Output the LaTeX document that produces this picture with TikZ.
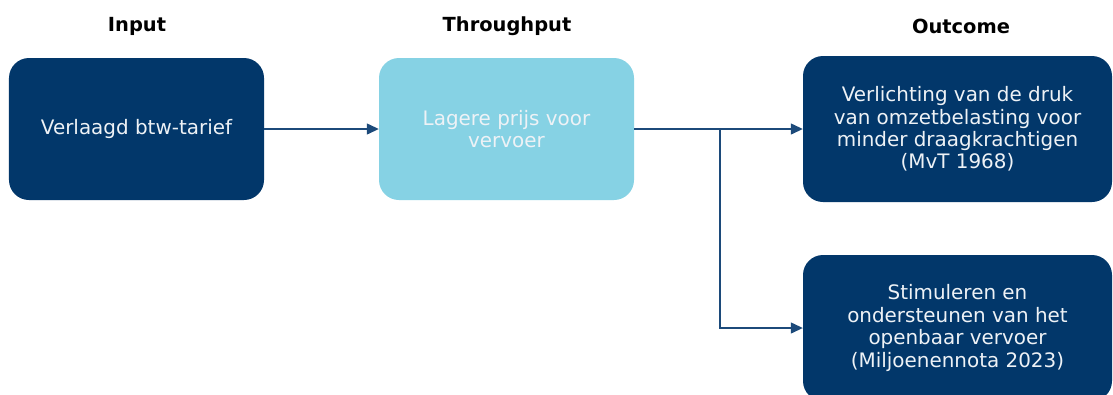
\documentclass[tikz,border=0pt]{standalone}
\usepackage{fontspec}
\setmainfont{DejaVu Sans}
\usetikzlibrary{arrows.meta}
\definecolor{navy}{HTML}{02376A}
\definecolor{lblue}{HTML}{86D2E4}
\definecolor{arrowc}{HTML}{1C4A7A}
\definecolor{boxtext}{HTML}{EEF2F6}
\tikzset{
  box/.style={rounded corners=20bp, inner sep=0pt, align=center, text=boxtext,
    font=\fontsize{20}{22.5}\selectfont},
  darkbox/.style={box, fill=navy},
  lightbox/.style={box, fill=lblue},
  header/.style={font=\fontsize{19.5}{22}\selectfont\bfseries, text=black},
  conn/.style={draw=arrowc, line width=1.3bp, -{Triangle[length=12bp,width=11bp]}},
}
\begin{document}
\begin{tikzpicture}[x=1bp,y=-1bp]
\useasboundingbox (0,0) rectangle (1113,394);
\clip (0,0) rectangle (1113,394);
\fill[white] (0,0) rectangle (1113,394);
\node[header] (h1) at (137,26.5) {Input};
\node[header] (h2) at (507,26.5) {Throughput};
\node[header] (h3) at (961,26.5) {Outcome};
\node[darkbox, minimum width=255bp, minimum height=142bp] (b1) at (136.5,129) {Verlaagd btw-tarief};
\node[lightbox, minimum width=255bp, minimum height=142bp] (b2) at (506.5,129) {Lagere prijs voor\\vervoer};
\node[darkbox, minimum width=309bp, minimum height=146bp] (b3) at (957.5,129) {Verlichting van de druk\\van omzetbelasting voor\\minder draagkrachtigen\\(MvT 1968)};
\node[darkbox, minimum width=309bp, minimum height=146bp] (b4) at (957.5,328) {Stimuleren en\\ondersteunen van het\\openbaar vervoer\\(Miljoenennota 2023)};
\coordinate (br) at (720,129);
\draw[conn] (b1.east) -- (b2.west);
\draw[conn] (b2.east) -- (b3.west);
\draw[conn] (br) |- (b4.west);
\end{tikzpicture}
\end{document}
